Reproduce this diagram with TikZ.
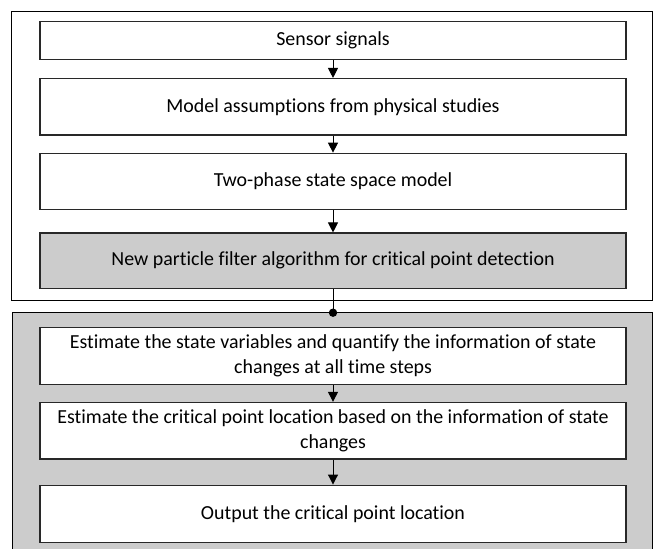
\documentclass[tikz,border=0pt]{standalone}
\usepackage{fontspec}
\setmainfont{Carlito}[Ligatures=NoCommon]
\usetikzlibrary{arrows.meta}
\definecolor{panelgray}{RGB}{204,204,204}
\definecolor{edgegray}{RGB}{40,40,40}
\tikzset{
  stagebox/.style={draw=edgegray, line width=1.2bp, fill=white, rectangle,
    minimum width=586bp, minimum height=56.5bp, inner sep=2pt,
    align=center, font=\fontsize{20}{25}\selectfont},
  grayfill/.style={fill=panelgray},
  flow/.style={draw=black, line width=1bp, -{Triangle[width=10bp,length=10bp]}},
  frame/.style={draw=black, line width=1bp},
}
\begin{document}
\begin{tikzpicture}[x=1bp,y=-1bp]
  \useasboundingbox (0,0) rectangle (655,549);
  % upper panel: the modelling stages
  \node[frame, fill=white, rectangle, minimum width=640bp, minimum height=288.3bp,
        inner sep=0pt] (upper) at (332,155.85) {};
  % lower panel runs off the bottom edge, so it has no bottom line
  \fill[panelgray] (12,312.7) rectangle (652,549);
  \draw[frame] (12,549) -- (12,312.7) -- (652,312.7) -- (652,549);
  \coordinate (join) at (333,312.7);

  \node[stagebox, minimum height=37.5bp] (sensor) at (333,40.4) {Sensor signals};
  \node[stagebox] (model) at (333,106.8) {Model assumptions from physical studies};
  \node[stagebox] (twophase) at (333,181.5) {Two-phase state space model};
  \node[stagebox, grayfill, minimum height=55.3bp] (pf) at (333,260.7)
    {New particle filter algorithm for critical point detection};

  \node[stagebox] (est) at (333,356) {Estimate the state variables and quantify the information of state\\changes at all time steps};
  \node[stagebox] (crit) at (333,430.7) {Estimate the critical point location based on the information of state\\changes};
  \node[stagebox, minimum height=57.7bp] (out) at (333,514) {Output the critical point location};

  \draw[flow] (sensor) -- (model);
  \draw[flow] (model) -- (twophase);
  \draw[flow] (twophase) -- (pf);
  \draw[black, line width=1bp] (pf.south) -- (join);
  \fill[black] (join) circle (4.2bp);
  \draw[flow] (est) -- (crit);
  \draw[flow] (crit) -- (out);
\end{tikzpicture}
\end{document}
